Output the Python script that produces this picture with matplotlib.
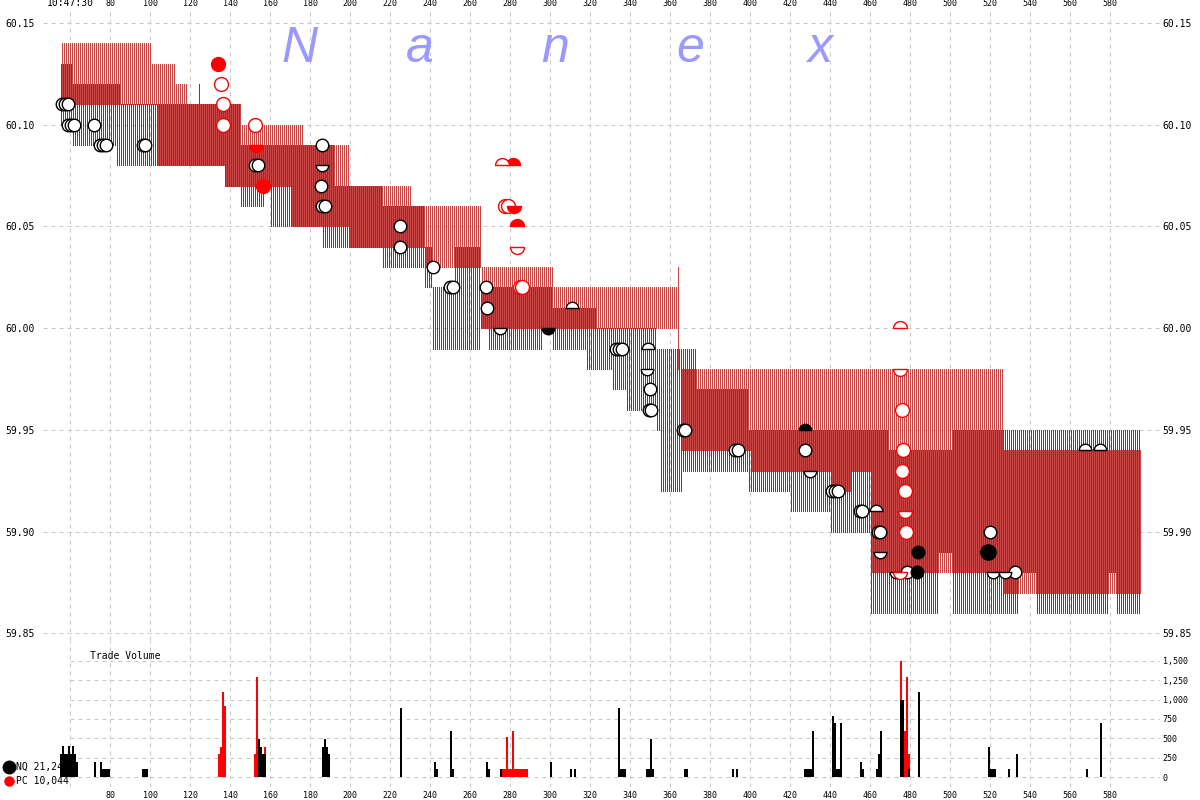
import numpy as np
import matplotlib
matplotlib.use('Agg')
import matplotlib.pyplot as plt
import matplotlib.path as mpath
from matplotlib.lines import Line2D

plt.rcParams['font.family'] = ['DejaVu Sans Mono']

# quote bands (seconds after 10:47:00, bid, ask)
nq_start = [55, 61, 83, 85, 124, 125, 137, 145, 157, 160, 186, 192, 199, 216, 237, 241, 252, 265, 269, 296, 301, 318, 323, 331, 338, 353, 355, 366, 373, 399, 420, 440, 460, 469, 494, 501, 534, 543, 579, 583]
nq_end = [61, 83, 85, 124, 125, 137, 145, 157, 160, 186, 192, 199, 216, 237, 241, 252, 265, 269, 296, 301, 318, 323, 331, 338, 353, 355, 366, 373, 399, 420, 440, 460, 469, 494, 501, 534, 543, 579, 583, 595]
nq_bid = [60.10, 60.09, 60.08, 60.08, 60.08, 60.08, 60.07, 60.06, 60.07, 60.05, 60.04, 60.04, 60.04, 60.03, 60.02, 59.99, 59.99, 60.00, 59.99, 60.00, 59.99, 59.98, 59.98, 59.97, 59.96, 59.95, 59.92, 59.93, 59.93, 59.92, 59.91, 59.90, 59.86, 59.86, 59.89, 59.86, 59.88, 59.86, 59.88, 59.86]
nq_ask = [60.13, 60.12, 60.12, 60.11, 60.12, 60.11, 60.11, 60.09, 60.09, 60.09, 60.09, 60.07, 60.07, 60.06, 60.04, 60.02, 60.04, 60.02, 60.02, 60.02, 60.01, 60.01, 60.00, 60.00, 60.00, 59.99, 59.99, 59.99, 59.97, 59.95, 59.95, 59.95, 59.95, 59.94, 59.94, 59.95, 59.95, 59.95, 59.95, 59.95]

pc_start = [55, 100, 103, 112, 118, 137, 145, 170, 176, 199, 230, 237, 265, 301, 363, 365, 400, 440, 450, 460, 526]
pc_end = [100, 103, 112, 118, 137, 145, 170, 176, 199, 230, 237, 265, 301, 363, 364, 400, 440, 450, 460, 526, 595]
pc_bid = [60.11, 60.11, 60.08, 60.08, 60.08, 60.07, 60.07, 60.05, 60.05, 60.04, 60.04, 60.03, 60.00, 60.00, 59.98, 59.94, 59.93, 59.92, 59.93, 59.88, 59.87]
pc_ask = [60.14, 60.13, 60.13, 60.12, 60.11, 60.11, 60.10, 60.10, 60.09, 60.07, 60.06, 60.06, 60.03, 60.02, 60.03, 59.98, 59.98, 59.98, 59.98, 59.98, 59.94]

# trades
nq_open_t = [56, 57.5, 59, 59, 60.5, 62, 72, 75, 76.5, 78, 96.5, 97.5, 152.5, 154, 186, 185.5, 186, 187.5, 225, 225, 241.5, 250, 251.5, 268, 268.5, 333, 334.5, 336, 350, 349.5, 350.5, 366.5, 367.5, 392.5, 394, 427.5, 441, 442.5, 444, 455, 456, 464, 465, 478.5, 520, 532.5]
nq_open_p = [60.11, 60.11, 60.11, 60.10, 60.10, 60.10, 60.10, 60.09, 60.09, 60.09, 60.09, 60.09, 60.08, 60.08, 60.09, 60.07, 60.06, 60.06, 60.05, 60.04, 60.03, 60.02, 60.02, 60.02, 60.01, 59.99, 59.99, 59.99, 59.97, 59.96, 59.96, 59.95, 59.95, 59.94, 59.94, 59.94, 59.92, 59.92, 59.92, 59.91, 59.91, 59.90, 59.90, 59.88, 59.90, 59.88]
nq_bowl_t = [186, 275, 348.5, 430, 465, 473, 521.5, 527.5]
nq_bowl_p = [60.08, 60.00, 59.98, 59.93, 59.89, 59.88, 59.88, 59.88]
nq_dome_t = [311, 349, 463, 567.5, 575]
nq_dome_p = [60.01, 59.99, 59.91, 59.94, 59.94]
nq_dark_t = [484, 483.5]
nq_dark_p = [59.89, 59.88]
nq_big_t = [519]
nq_big_p = [59.89]
nq_dark_dome_t = [427.5]
nq_dark_dome_p = [59.95]
nq_dark_bowl_t = [299]
nq_dark_bowl_p = [60.00]

pc_dot_t = [134, 156.5]
pc_dot_p = [60.13, 60.07]
pc_open_t = [135.5, 136.5, 136.5, 152.5, 277.5, 279, 285, 286, 476, 476.5, 476, 477.5, 478]
pc_open_p = [60.12, 60.11, 60.10, 60.10, 60.06, 60.06, 60.02, 60.02, 59.96, 59.94, 59.93, 59.92, 59.90]
pc_bowl_t = [153, 282]
pc_bowl_p = [60.09, 60.06]
pc_open_bowl_t = [283.5, 475, 477.5, 475]
pc_open_bowl_p = [60.04, 59.98, 59.91, 59.88]
pc_dome_t = [281.5, 283.5]
pc_dome_p = [60.08, 60.05]
pc_open_dome_t = [276, 475]
pc_open_dome_p = [60.08, 60.00]

# trade volume
nq_vol_t = [55, 56, 57, 58, 59, 60, 61, 62, 63, 72, 75, 76, 77, 78, 79, 96, 97, 98,
            154, 155, 156, 157, 186, 187, 188, 189, 225, 242, 243, 250, 251, 268, 269, 275,
            300, 310, 312, 334, 335, 336, 337, 348, 349, 350, 351, 367, 368, 391, 393,
            427, 428, 429, 430, 431, 441, 442, 443, 444, 445, 455, 456, 463, 464, 465,
            475, 476, 479, 484, 519, 520, 521, 522, 529, 533, 568, 575]
nq_vol = [300, 400, 300, 300, 400, 300, 400, 300, 200, 200, 200, 100, 100, 100, 100, 100, 100, 100,
          490, 390, 300, 300, 390, 490, 390, 300, 890, 200, 100, 590, 100, 200, 100, 100,
          200, 100, 100, 890, 100, 100, 100, 100, 100, 490, 100, 100, 100, 100, 100,
          100, 100, 100, 100, 590, 790, 700, 100, 100, 700, 200, 100, 100, 300, 590,
          1000, 1000, 100, 1100, 390, 100, 100, 100, 100, 300, 100, 700]
pc_vol_t = [134, 135, 136, 137, 152, 153, 157, 276, 277, 278, 279, 280, 281, 282, 283, 284,
            285, 286, 287, 288, 475, 476, 477, 478, 479]
pc_vol = [300, 390, 1100, 920, 300, 1290, 390, 100, 100, 520, 100, 100, 590, 100, 100, 100,
          100, 100, 100, 100, 1500, 1000, 590, 1290, 300]

time_ticks = list(range(60, 581, 20))
top_labels = ['10:47:30'] + [str(t) for t in time_ticks[1:]]
bottom_labels = [''] + [str(t) for t in time_ticks[1:]]
price_ticks = [59.85, 59.90, 59.95, 60.00, 60.05, 60.10, 60.15]
vol_ticks = [0, 250, 500, 750, 1000, 1250, 1500]
vol_labels = ['0', '250', '500', '750', '1,000', '1,250', '1,500']

SLATE = '#404f4f'
STRIPE_RED = '#c84646'
GRID = '#c8c8c8'
XMIN, XMAX = 46.5, 605
PMIN, PMAX = 59.8467, 60.1569


def stripes(ax, start, end, bid, ask, offset, color):
    xs, lo, hi = [], [], []
    for t0, t1, b, a in zip(start, end, bid, ask):
        for t in range(t0, t1):
            xs.append(t + offset)
            lo.append(b)
            hi.append(a)
    ax.vlines(xs, lo, hi, colors=color, linewidth=0.72, antialiased=False, zorder=2)


def half(theta1, theta2):
    arc = mpath.Path.arc(theta1, theta2)
    verts = np.vstack([arc.vertices, arc.vertices[:1]])
    codes = list(arc.codes) + [mpath.Path.CLOSEPOLY]
    return mpath.Path(verts, codes)


bowl = half(180, 360)
dome = half(0, 180)

fig = plt.figure(figsize=(12, 8), dpi=100)
ax = fig.add_axes([43 / 1200, 1 - 640 / 800, 1117 / 1200, 631 / 800])
axv = fig.add_axes([43 / 1200, 1 - 787 / 800, 1117 / 1200, 147 / 800])
axv.set_facecolor('none')

# price panel
stripes(ax, nq_start, nq_end, nq_bid, nq_ask, 0.25, SLATE)
stripes(ax, pc_start, pc_end, pc_bid, pc_ask, 0.75, STRIPE_RED)

mk = dict(ls='none', zorder=4, mew=1.0)
ax.plot(nq_open_t, nq_open_p, marker='o', ms=9, mfc='white', mec='black', **mk)
ax.plot(nq_bowl_t, nq_bowl_p, marker=bowl, ms=9, mfc='white', mec='black', **mk)
ax.plot(nq_dome_t, nq_dome_p, marker=dome, ms=9, mfc='white', mec='black', **mk)
ax.plot(nq_dark_t, nq_dark_p, marker='o', ms=9, mfc='black', mec='black', **mk)
ax.plot(nq_big_t, nq_big_p, marker='o', ms=11, mfc='black', mec='black', **mk)
ax.plot(nq_dark_dome_t, nq_dark_dome_p, marker=dome, ms=9, mfc='black', mec='black', **mk)
ax.plot(nq_dark_bowl_t, nq_dark_bowl_p, marker=bowl, ms=9, mfc='black', mec='black', **mk)
ax.plot(pc_dot_t, pc_dot_p, marker='o', ms=10, mfc='red', mec='red', **mk)
ax.plot(pc_open_t, pc_open_p, marker='o', ms=10, mfc='white', mec='red', **mk)
ax.plot(pc_bowl_t, pc_bowl_p, marker=bowl, ms=10, mfc='red', mec='red', **mk)
ax.plot(pc_open_bowl_t, pc_open_bowl_p, marker=bowl, ms=10, mfc='white', mec='red', **mk)
ax.plot(pc_dome_t, pc_dome_p, marker=dome, ms=10, mfc='red', mec='red', **mk)
ax.plot(pc_open_dome_t, pc_open_dome_p, marker=dome, ms=10, mfc='white', mec='red', **mk)

ax.set_xlim(XMIN, XMAX)
ax.set_ylim(PMIN, PMAX)
ax.set_yticks(price_ticks)
ax.set_yticklabels([f'{v:.2f}' for v in price_ticks])
ax.tick_params(axis='y', length=0, pad=5.8, labelsize=7)
ax.xaxis.tick_top()
ax.set_xticks(time_ticks)
ax.set_xticklabels(top_labels)
ax.tick_params(axis='x', length=0, pad=0.5, labelsize=6)
ax.get_xticklabels()[0].set_fontsize(7)
ax.grid(True, color=GRID, linestyle=(0, (4, 4)), linewidth=0.72)
ax.set_axisbelow(True)

axr = ax.twinx()
axr.set_ylim(PMIN, PMAX)
axr.set_yticks(price_ticks)
axr.set_yticklabels([f'{v:.2f}' for v in price_ticks])
axr.tick_params(axis='y', length=0, pad=2, labelsize=7)

# volume panel
axv.bar(pc_vol_t, pc_vol, width=1, align='edge', color='red', linewidth=0, antialiased=False, zorder=2)
axv.bar(nq_vol_t, nq_vol, width=1, align='edge', color='black', linewidth=0, antialiased=False, zorder=3)
axv.hlines(vol_ticks, 60, XMAX, colors=GRID, linestyles=(0, (4, 4)), linewidth=0.72, zorder=1)
axv.set_xlim(XMIN, XMAX)
axv.set_ylim(-129, 1771)
axv.set_xticks(time_ticks)
axv.set_xticklabels(bottom_labels)
axv.tick_params(axis='x', length=0, pad=3, labelsize=6)
axv.grid(True, axis='x', color=GRID, linestyle=(0, (4, 4)), linewidth=0.72)
axv.set_axisbelow(True)
axv.yaxis.tick_right()
axv.set_yticks(vol_ticks)
axv.set_yticklabels(vol_labels)
axv.tick_params(axis='y', length=0, pad=2, labelsize=6)
axv.text(70, 1560, 'Trade Volume', fontsize=7, va='center', ha='left')

for a in (ax, axr, axv):
    for s in a.spines.values():
        s.set_visible(False)

# watermark
for letter, x in zip('Nanex', [300, 420, 555, 690, 820]):
    fig.text(x / 1200, 1 - 62 / 800, letter, fontsize=36, family='Liberation Sans',
             style='italic', color='#9999ff', ha='center', va='baseline')

# legend
fig.add_artist(Line2D([9 / 1200], [1 - 767 / 800], marker='o', ms=9, color='black',
                      transform=fig.transFigure, zorder=-1))
fig.add_artist(Line2D([9 / 1200], [1 - 781 / 800], marker='o', ms=6.5, color='red',
                      transform=fig.transFigure, zorder=-1))
fig.text(16 / 1200, 1 - 767 / 800, 'NQ 21,244', fontsize=7, va='center', zorder=-1)
fig.text(16 / 1200, 1 - 781 / 800, 'PC 10,044', fontsize=7, va='center', zorder=-1)

fig.savefig('out.png', dpi=100)
